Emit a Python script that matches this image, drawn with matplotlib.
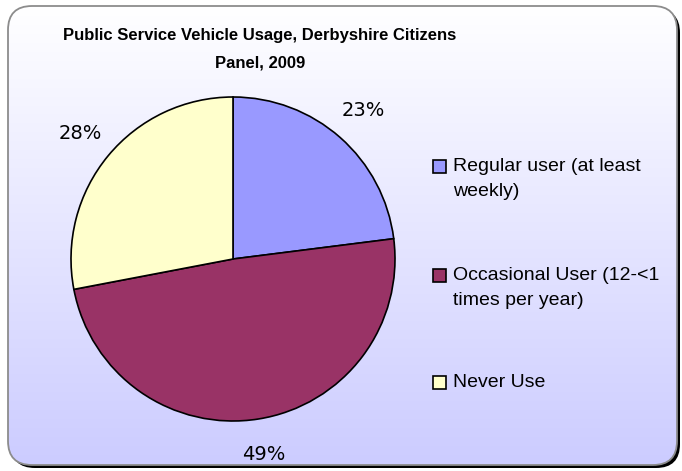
import numpy as np
import matplotlib
matplotlib.use("Agg")
import matplotlib.pyplot as plt
from matplotlib.patches import FancyBboxPatch, Rectangle
from matplotlib.colors import LinearSegmentedColormap

categories = [
    "Regular user (at least\nweekly)",
    "Occasional User (12-<1\ntimes per year)",
    "Never Use"
]
shares = [23, 49, 28]
colors = ["#9999FF", "#993366", "#FFFFCC"]
title = "Public Service Vehicle Usage, Derbyshire Citizens\nPanel, 2009"

W, H = 682, 471
fig = plt.figure(figsize=(W / 100, H / 100), dpi=100)

# background: rounded frame with shadow and white->lavender gradient
bg = fig.add_axes([0, 0, 1, 1])
bg.set_xlim(0, W)
bg.set_ylim(H, 0)
bg.axis("off")

x0, y0, x1, y1 = 8, 6, 677, 465
box_style = "round,pad=0,rounding_size=24"
shadow = FancyBboxPatch(
    (x0 + 3, y0 + 3), x1 - x0, y1 - y0,
    boxstyle=box_style, fc="black", ec="none"
)
bg.add_patch(shadow)
frame = FancyBboxPatch(
    (x0, y0), x1 - x0, y1 - y0,
    boxstyle=box_style, fc="none", ec="#8C8C8C", lw=1.3, zorder=3
)
bg.add_patch(frame)
cmap = LinearSegmentedColormap.from_list("bg", ["#FFFFFF", "#CCCCFF"])
grad = np.linspace(0, 1, 256).reshape(-1, 1)
img = bg.imshow(
    grad, cmap=cmap, aspect="auto",
    extent=(x0, x1, y1, y0), zorder=2
)
img.set_clip_path(frame)

bg.text(
    260, 49, title,
    ha="center", va="center",
    fontsize=12, fontweight="bold",
    family="Liberation Sans", linespacing=2.05, zorder=4
)

# pie
cx, cy, r = 233, 259, 162
ax = fig.add_axes([
    (cx - r) / W,
    (H - cy - r) / H,
    2 * r / W,
    2 * r / H
])
ax.pie(
    shares,
    colors=colors,
    startangle=90,
    counterclock=False,
    autopct="%1.0f%%",
    pctdistance=1.22,
    textprops={"fontsize": 14, "family": "DejaVu Sans"},
    wedgeprops={"edgecolor": "black", "linewidth": 1.2}
)
ax.set_xlim(-1, 1)
ax.set_ylim(-1, 1)
ax.set_aspect("auto")
ax.axis("off")

# legend, drawn Excel style
legend_y = [166, 275, 382]
for label, color, ly in zip(categories, colors, legend_y):
    bg.add_patch(Rectangle(
        (433, ly - 6.5), 13, 13,
        fc=color, ec="black", lw=1.2, zorder=4
    ))
    bg.text(
        453, ly - 8, label,
        ha="left", va="top",
        fontsize=14, family="Liberation Sans",
        linespacing=1.6, zorder=4
    )

fig.savefig("out.png", dpi=100)
